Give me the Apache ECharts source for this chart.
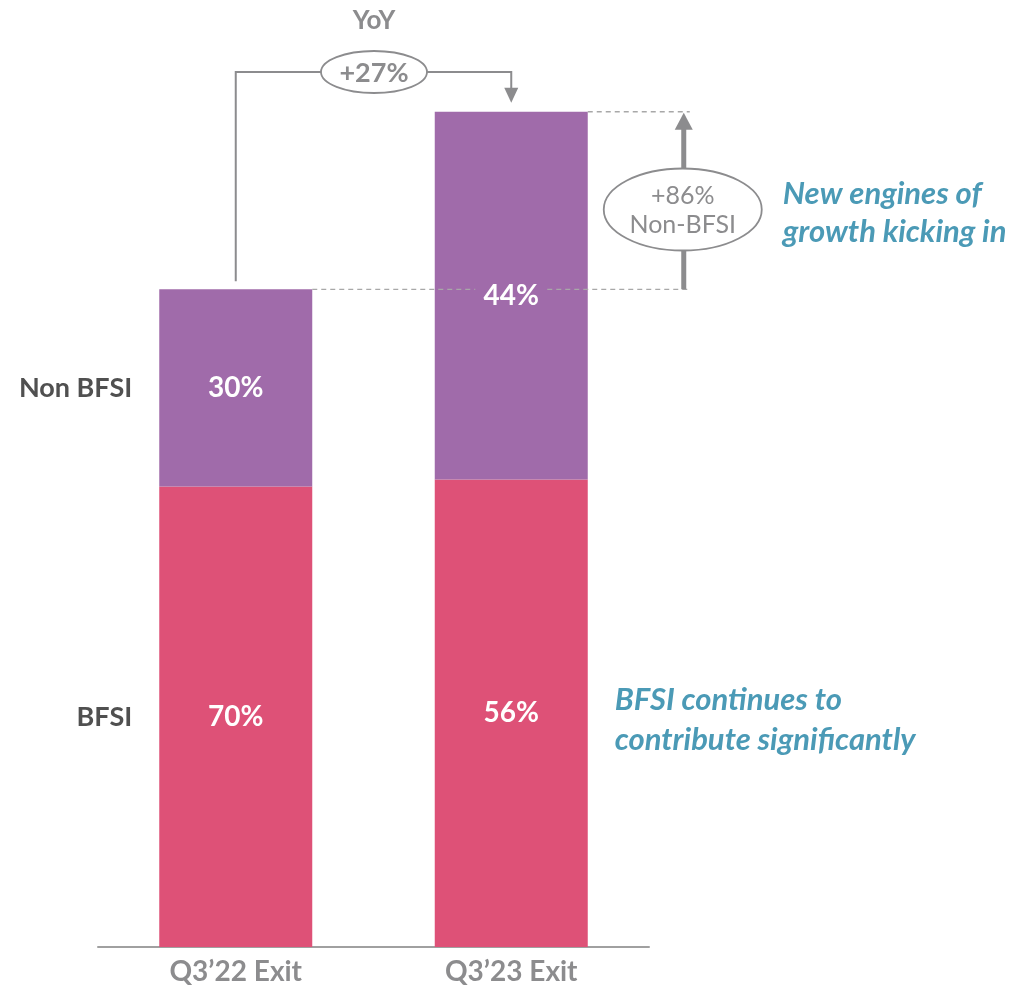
<!DOCTYPE html>
<html>
<head>
<meta charset="utf-8">
<script src="https://cdn.jsdelivr.net/npm/echarts@6/dist/echarts.min.js"></script>
<style>
html, body { margin: 0; padding: 0; background: #ffffff; }
#main { width: 1019px; height: 994px; }
</style>
</head>
<body>
<div id="main"></div>
<script>
// data (bar 2 is ~27% taller than bar 1)
var categories = ['Q3\u201922 Exit', 'Q3\u201923 Exit'];
var bfsiValues = [70, 71.1];
var nonBfsiValues = [30, 55.9];
var bfsiLabels = ['70%', '56%'];
var nonBfsiLabels = ['30%', '44%'];
var seriesNames = ['BFSI', 'Non BFSI'];
var yoyText = '+27%';
var growthText = ['+86%', 'Non-BFSI'];
var noteTop = ['New engines of', 'growth kicking in'];
var noteBottom = ['BFSI continues to', 'contribute significantly'];

var FONT = 'Lato, "Open Sans", sans-serif';
var PURPLE = '#a06baa';
var PINK = '#de5177';
var GRAY = '#8c8c8e';
var TEAL = '#4b9ab6';

var chart = echarts.init(document.getElementById('main'));

chart.setOption({
    animation: false,
    grid: { left: 98, right: 370, top: 92, bottom: 47 },
    xAxis: {
        type: 'category',
        data: categories,
        axisTick: { show: false },
        axisLine: { lineStyle: { color: '#a0a0a0', width: 2 } },
        axisLabel: { color: GRAY, fontFamily: FONT, fontWeight: 'bold', fontSize: 28, margin: 11 }
    },
    yAxis: {
        type: 'value', min: 0, max: 130,
        show: false, splitLine: { show: false }
    },
    series: [
        {
            name: seriesNames[0], type: 'bar', stack: 'total', barWidth: 153,
            itemStyle: { color: PINK },
            data: bfsiValues,
            label: {
                show: true, position: 'inside', color: '#fff', fontFamily: FONT,
                fontWeight: 'bold', fontSize: 28,
                formatter: function (p) { return bfsiLabels[p.dataIndex]; }
            }
        },
        {
            name: seriesNames[1], type: 'bar', stack: 'total', barWidth: 153,
            itemStyle: { color: PURPLE },
            data: nonBfsiValues,
            label: {
                show: true, position: 'inside', color: '#fff', fontFamily: FONT,
                fontWeight: 'bold', fontSize: 28,
                formatter: function (p) { return nonBfsiLabels[p.dataIndex]; }
            }
        }
    ]
});

// annotations, placed from the bar positions
function px(i, v) { return chart.convertToPixel({ gridIndex: 0 }, [i, v]); }

function txt(x, y, s, size, color, extra) {
    var st = { text: s, fill: color, fontFamily: FONT, fontSize: size, fontWeight: 'bold',
        align: 'center', verticalAlign: 'middle' };
    for (var k in extra) st[k] = extra[k];
    return { type: 'text', z: 12, x: x, y: y, style: st };
}

var half = 153 / 2;
var top0 = px(0, bfsiValues[0] + nonBfsiValues[0]);
var top1 = px(1, bfsiValues[1] + nonBfsiValues[1]);
var mid0Bfsi = px(0, bfsiValues[0] / 2);
var mid0Non = px(0, bfsiValues[0] + nonBfsiValues[0] / 2);

var c0 = top0[0], c1 = top1[0];
var yoyY = 72;
var ovalX = (c0 + c1) / 2 + 0.5;
var arrowX = c1 + half + 96;
var dashEnd = c1 + half + 102;
var labelGap = 36;

var lineStyle = { stroke: GRAY, lineWidth: 2, fill: null };
var dashStyle = { stroke: '#a8a8a8', lineWidth: 1.3, lineDash: [5, 4], fill: null };

var g = [];

// left category labels
g.push(txt(c0 - half - 27, mid0Non[1], seriesNames[1], 27, '#505050', { align: 'right' }));
g.push(txt(c0 - half - 27, mid0Bfsi[1], seriesNames[0], 27, '#505050', { align: 'right' }));

// dashed guides
g.push({ type: 'line', z: 10, shape: { x1: c0 + half, y1: top0[1], x2: c1 - labelGap, y2: top0[1] }, style: dashStyle });
g.push({ type: 'line', z: 10, shape: { x1: c1 + labelGap, y1: top0[1], x2: dashEnd, y2: top0[1] }, style: dashStyle });
g.push({ type: 'line', z: 10, shape: { x1: c1 + half, y1: top1[1], x2: dashEnd, y2: top1[1] }, style: dashStyle });

// YoY bracket
g.push({ type: 'polyline', z: 10, shape: { points: [[c0, top0[1] - 8], [c0, yoyY], [ovalX - 52, yoyY]] }, style: lineStyle });
g.push({ type: 'polyline', z: 10, shape: { points: [[ovalX + 52, yoyY], [c1, yoyY], [c1, top1[1] - 22]] }, style: lineStyle });
g.push({ type: 'polygon', z: 10, shape: { points: [[c1 - 7, top1[1] - 24], [c1 + 7, top1[1] - 24], [c1, top1[1] - 9]] }, style: { fill: GRAY } });
g.push({ type: 'ellipse', z: 11, shape: { cx: ovalX, cy: yoyY, rx: 53, ry: 21 }, style: { fill: '#fff', stroke: GRAY, lineWidth: 1.8 } });
g.push(txt(ovalX, yoyY + 1, yoyText, 27, GRAY));
g.push(txt(ovalX, 21, 'YoY', 26, GRAY));

// Non-BFSI growth arrow
var ovalY = (top0[1] + top1[1]) / 2 + 9;
g.push({ type: 'line', z: 10, shape: { x1: arrowX, y1: top0[1], x2: arrowX, y2: top1[1] + 16 }, style: { stroke: GRAY, lineWidth: 5 } });
g.push({ type: 'polygon', z: 10, shape: { points: [[arrowX - 9, top1[1] + 18], [arrowX + 9, top1[1] + 18], [arrowX, top1[1] + 1]] }, style: { fill: GRAY } });
g.push({ type: 'ellipse', z: 11, shape: { cx: arrowX - 1, cy: ovalY, rx: 79, ry: 41 }, style: { fill: '#fff', stroke: GRAY, lineWidth: 1.8 } });
g.push(txt(arrowX - 1, ovalY - 14, growthText[0], 25, GRAY, { fontWeight: 'normal' }));
g.push(txt(arrowX - 1, ovalY + 15, growthText[1], 25, GRAY, { fontWeight: 'normal' }));

// teal notes
var italic = { align: 'left', fontStyle: 'italic' };
g.push(txt(c1 + half + 195, ovalY - 16, noteTop[0], 31, TEAL, italic));
g.push(txt(c1 + half + 195, ovalY + 22, noteTop[1], 31, TEAL, italic));
g.push(txt(c1 + half + 27, 700, noteBottom[0], 31, TEAL, italic));
g.push(txt(c1 + half + 27, 740, noteBottom[1], 31, TEAL, italic));

chart.setOption({ graphic: { elements: g } });
</script>
</body>
</html>
